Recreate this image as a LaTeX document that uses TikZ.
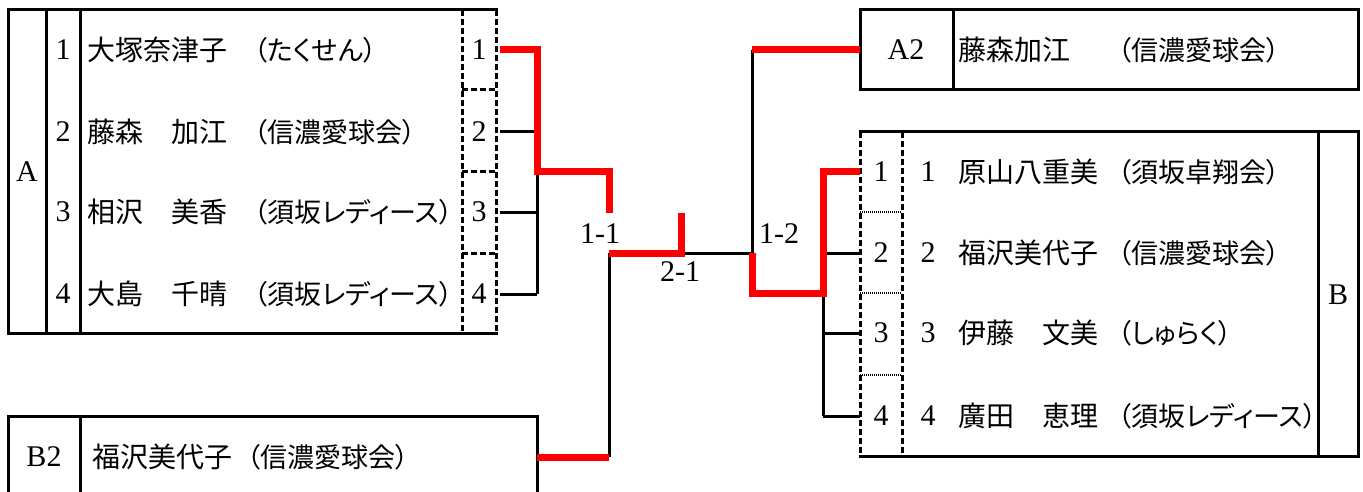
\documentclass[tikz,border=0pt]{standalone}
\usepackage{fontspec}
\setmainfont{Liberation Serif}
\newfontfamily\jpfont{Noto Sans CJK JP}[RawFeature=+palt]
\definecolor{WinRed}{RGB}{255,0,0}

\begin{document}
\begin{tikzpicture}[x=1pt, y=-1pt,
    frame/.style={line width=3pt, line cap=rect},
    dashline/.style={line width=3pt, dash pattern=on 6pt off 3pt},
    dotline/.style={line width=2pt, dash pattern=on 1pt off 1pt},
    link/.style={line width=3pt},
    win/.style={WinRed, line width=7pt},
    num/.style={inner sep=0pt, font=\fontsize{30}{32}\selectfont},
    score/.style={inner sep=0pt, font=\fontsize{30}{32}\selectfont},
    player/.style={anchor=west, inner sep=0pt, font=\jpfont\fontsize{28}{31}\selectfont},
    club/.style={player, font=\jpfont\fontsize{27}{30}\selectfont}]
  \useasboundingbox (0,0) rectangle (1363,492);

  % group A
  \draw[frame] (496,10) -- (8,10) -- (8,333) -- (496,333);
  \draw[frame] (46,10) -- (46,333) (80,10) -- (80,333);
  \draw[dashline] (462,10) -- (462,333) (496,10) -- (496,333);
  \foreach \y in {90,172,253}
    \draw[dashline] (462,\y) -- (496,\y);
  \node[num] (grpA) at (27,172) {A};
  \foreach \i/\y/\who/\club in {1/50/大塚奈津子/（たくせん）,
      2/132/藤森　加江/（信濃愛球会）, 3/212/相沢　美香/（須坂レディース）,
      4/294/大島　千晴/（須坂レディース）}{
    \node[num] (noA\i) at (63,\y) {\i};
    \node[player] (nameA\i) at (87,\y) {\who};
    \node[club] (clubA\i) at (254,\y) {\club};
    \node[num] (seedA\i) at (479,\y) {\i};
    \coordinate (outA\i) at (500,\y);
  }

  % second places
  \draw[frame] (860,10) rectangle (1358,90);
  \draw[frame] (953,10) -- (953,90);
  \node[num] (lblA2) at (906,50) {A2};
  \node[player] (nameA2) at (958,50) {藤森加江};
  \node[club] (clubA2) at (1118,50) {（信濃愛球会）};
  \coordinate (inA2) at (860,50);

  \draw[frame] (8,496) -- (8,416) -- (537,416) -- (537,496);
  \draw[frame] (80,416) -- (80,496);
  \node[num] (lblB2) at (44,457) {B2};
  \node[player] (nameB2) at (92,457) {福沢美代子};
  \node[club] (clubB2) at (247,457) {（信濃愛球会）};
  \coordinate (outB2) at (537,457);

  % group B
  \draw[frame] (860,132) -- (1358,132) -- (1358,456) -- (860,456);
  \draw[frame] (1318,132) -- (1318,456);
  \draw[dashline] (860,132) -- (860,456) (902,132) -- (902,456);
  \foreach \y in {212,293,375}
    \draw[dotline] (860,\y) -- (902,\y);
  \node[num] (grpB) at (1338,295) {B};
  \foreach \i/\y/\who/\club in {1/172/原山八重美/（須坂卓翔会）,
      2/253/福沢美代子/（信濃愛球会）, 3/333/伊藤　文美/（しゅらく）,
      4/416/廣田　恵理/（須坂レディース）}{
    \node[num] (seedB\i) at (881,\y) {\i};
    \node[num] (noB\i) at (928,\y) {\i};
    \node[player] (nameB\i) at (958,\y) {\who};
    \node[club] (clubB\i) at (1118,\y) {\club};
    \coordinate (inB\i) at (860,\y);
  }

  % bracket
  \coordinate (jA) at (537,172);
  \coordinate (t11) at (609,213);
  \coordinate (m11) at (609,253);
  \coordinate (t21) at (681,213);
  \coordinate (m12) at (752,253);
  \coordinate (jB) at (823,293);

  \foreach \i in {2,3,4}
    \draw[link] (outA\i) -- (outA\i -| jA);
  \draw[link] (jA) -- (jA |- outA4);
  \draw[link] (m11) -- (m11 |- outB2);
  \draw[link] (t21 |- m11) -- (m12);
  \draw[link] (m12) -- (m12 |- inA2);
  \foreach \i in {2,3,4}
    \draw[link] (inB\i -| jB) -- (inB\i);
  \draw[link] (jB) -- (jB |- inB4);

  \draw[win] (outA1) -| (jA) -| (t11);
  \draw[win] (outB2) -- (outB2 -| m11);
  \draw[win] (m11) -| (t21);
  \draw[win] (m12 |- inA2) -- (inA2);
  \draw[win] (m12) |- (jB) |- (inB1);

  \node[score] (sc11) at (600,234) {1-1};
  \node[score] (sc21) at (680,272) {2-1};
  \node[score] (sc12) at (779,234) {1-2};
\end{tikzpicture}
\end{document}
